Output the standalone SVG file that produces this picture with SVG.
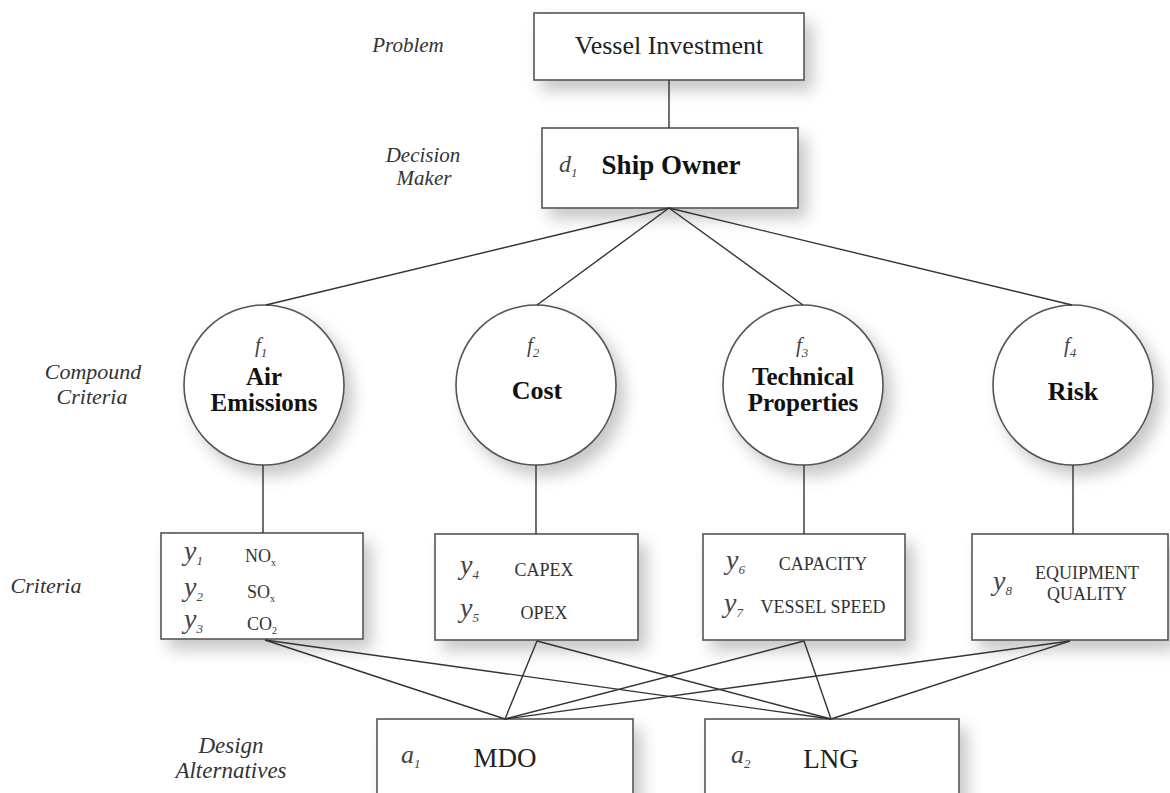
<svg xmlns="http://www.w3.org/2000/svg" width="1170" height="793" viewBox="0 0 1170 793">
  <defs>
    <filter id="soft-shadow" x="-20%" y="-20%" width="150%" height="160%">
      <feDropShadow dx="8" dy="10" stdDeviation="8" flood-color="#000" flood-opacity="0.22"/>
    </filter>
    <style>
      .box { fill: #fff; stroke: #555; stroke-width: 1.6; filter: url(#soft-shadow); }
      .link { stroke: #333; stroke-width: 1.4; fill: none; }
      .lvl { font-family: "Liberation Serif", "DejaVu Serif", serif; font-style: italic; fill: #333; text-anchor: middle; }
      .sym { font-family: "Liberation Serif", "DejaVu Serif", serif; font-style: italic; fill: #444; }
      .sub { font-size: 13px; }
      .title { font-family: "Liberation Serif", "DejaVu Serif", serif; fill: #222; text-anchor: middle; }
      .bold { font-weight: bold; fill: #111; }
      .crit { font-family: "Liberation Serif", "DejaVu Serif", serif; font-size: 18px; fill: #333; }
    </style>
  </defs>
  <rect width="1170" height="793" fill="#fff"/>

  <!-- level captions -->
  <g id="level-labels">
    <text class="lvl" x="408" y="52" font-size="21">Problem</text>
    <text class="lvl" x="423" y="162" font-size="21">Decision</text>
    <text class="lvl" x="424" y="185" font-size="21">Maker</text>
    <text class="lvl" x="93" y="379" font-size="22">Compound</text>
    <text class="lvl" x="92" y="404" font-size="22">Criteria</text>
    <text class="lvl" x="46" y="593" font-size="22">Criteria</text>
    <text class="lvl" x="231" y="753" font-size="23">Design</text>
    <text class="lvl" x="231" y="778" font-size="23">Alternatives</text>
  </g>

  <!-- problem -->
  <g id="node-problem">
    <rect class="box" x="534" y="13" width="270" height="67"/>
    <text class="title" x="669" y="54" font-size="26">Vessel Investment</text>
  </g>

  <!-- decision maker -->
  <g id="node-d1">
    <rect class="box" x="542" y="128" width="256" height="80"/>
    <text class="sym" x="559" y="172" font-size="24">d<tspan class="sub" dy="5">1</tspan></text>
    <text class="title bold" x="671" y="174" font-size="27">Ship Owner</text>
  </g>

  <!-- compound criteria -->
  <g id="node-f1">
    <ellipse class="box" cx="264" cy="385" rx="80" ry="80"/>
    <text class="sym" x="255" y="352" font-size="21" fill="#555">f<tspan class="sub" dy="5">1</tspan></text>
    <text class="title bold" x="264" y="385" font-size="25">Air</text>
    <text class="title bold" x="264" y="411" font-size="25">Emissions</text>
  </g>
  <g id="node-f2">
    <ellipse class="box" cx="536" cy="385" rx="80" ry="80"/>
    <text class="sym" x="527" y="352" font-size="21" fill="#555">f<tspan class="sub" dy="5">2</tspan></text>
    <text class="title bold" x="537" y="399" font-size="26">Cost</text>
  </g>
  <g id="node-f3">
    <ellipse class="box" cx="803" cy="385" rx="80" ry="80"/>
    <text class="sym" x="796" y="352" font-size="21" fill="#555">f<tspan class="sub" dy="5">3</tspan></text>
    <text class="title bold" x="803" y="385" font-size="25">Technical</text>
    <text class="title bold" x="803" y="411" font-size="25">Properties</text>
  </g>
  <g id="node-f4">
    <ellipse class="box" cx="1073" cy="385" rx="80" ry="80"/>
    <text class="sym" x="1064" y="352" font-size="21" fill="#555">f<tspan class="sub" dy="5">4</tspan></text>
    <text class="title bold" x="1073" y="400" font-size="26">Risk</text>
  </g>

  <!-- criteria -->
  <g id="node-air-criteria">
    <rect class="box" x="161" y="533" width="202" height="106"/>
    <text class="sym" x="184" y="560" font-size="28">y<tspan class="sub" dy="5">1</tspan></text>
    <text class="sym" x="184" y="596" font-size="28">y<tspan class="sub" dy="5">2</tspan></text>
    <text class="sym" x="184" y="628" font-size="28">y<tspan class="sub" dy="5">3</tspan></text>
    <text class="crit" x="245" y="562">NO<tspan font-size="10" dy="4">x</tspan></text>
    <text class="crit" x="247" y="598">SO<tspan font-size="10" dy="4">x</tspan></text>
    <text class="crit" x="247" y="630">CO<tspan font-size="10" dy="4">2</tspan></text>
  </g>
  <g id="node-cost-criteria">
    <rect class="box" x="435" y="534" width="203" height="106"/>
    <text class="sym" x="460" y="574" font-size="28">y<tspan class="sub" dy="5">4</tspan></text>
    <text class="sym" x="460" y="617" font-size="28">y<tspan class="sub" dy="5">5</tspan></text>
    <text class="crit" x="544" y="576" text-anchor="middle">CAPEX</text>
    <text class="crit" x="544" y="619" text-anchor="middle">OPEX</text>
  </g>
  <g id="node-tech-criteria">
    <rect class="box" x="703" y="534" width="202" height="106"/>
    <text class="sym" x="726" y="569" font-size="28">y<tspan class="sub" dy="5">6</tspan></text>
    <text class="sym" x="724" y="612" font-size="28">y<tspan class="sub" dy="5">7</tspan></text>
    <text class="crit" x="823" y="570" text-anchor="middle">CAPACITY</text>
    <text class="crit" x="823" y="613" text-anchor="middle">VESSEL SPEED</text>
  </g>
  <g id="node-risk-criteria">
    <rect class="box" x="972" y="534" width="196" height="106"/>
    <text class="sym" x="993" y="590" font-size="28">y<tspan class="sub" dy="5">8</tspan></text>
    <text class="crit" x="1087" y="579" text-anchor="middle">EQUIPMENT</text>
    <text class="crit" x="1087" y="600" text-anchor="middle">QUALITY</text>
  </g>

  <!-- design alternatives -->
  <g id="node-a1">
    <rect class="box" x="377" y="719" width="256" height="110"/>
    <text class="sym" x="401" y="763" font-size="26">a<tspan class="sub" dy="5">1</tspan></text>
    <text class="title" x="505" y="767" font-size="27">MDO</text>
  </g>
  <g id="node-a2">
    <rect class="box" x="705" y="719" width="254" height="110"/>
    <text class="sym" x="731" y="763" font-size="26">a<tspan class="sub" dy="5">2</tspan></text>
    <text class="title" x="831" y="768" font-size="27">LNG</text>
  </g>

  <!-- connectors -->
  <g id="connectors" class="link">
    <line x1="669" y1="80" x2="669" y2="128"/>
    <line x1="669" y1="208" x2="266" y2="305"/>
    <line x1="669" y1="208" x2="537" y2="305"/>
    <line x1="669" y1="208" x2="803" y2="305"/>
    <line x1="669" y1="208" x2="1072" y2="305"/>
    <line x1="263" y1="465" x2="263" y2="533"/>
    <line x1="536" y1="465" x2="536" y2="534"/>
    <line x1="804" y1="465" x2="804" y2="534"/>
    <line x1="1073" y1="465" x2="1073" y2="534"/>
    <line x1="265" y1="640" x2="505" y2="719"/>
    <line x1="265" y1="640" x2="831" y2="719"/>
    <line x1="537" y1="641" x2="505" y2="719"/>
    <line x1="537" y1="641" x2="831" y2="719"/>
    <line x1="804" y1="641" x2="505" y2="719"/>
    <line x1="804" y1="641" x2="831" y2="719"/>
    <line x1="1070" y1="641" x2="505" y2="719"/>
    <line x1="1070" y1="641" x2="831" y2="719"/>
  </g>
</svg>
